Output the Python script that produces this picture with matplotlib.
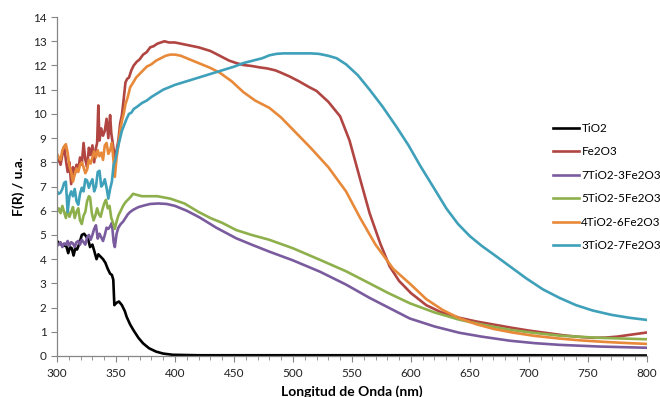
import numpy as np
import matplotlib
matplotlib.use('Agg')
import matplotlib.pyplot as plt
from matplotlib.ticker import MultipleLocator

# TiO2
tio2_x = [300, 302, 304, 306, 307.5, 309.5, 311, 312.5, 314, 315.5, 317, 319, 321, 323, 324.5, 326.5,
          328, 330, 331.5, 333.5, 335, 337, 339, 341, 343, 345, 346.5, 347.7, 348.6, 350.5, 352.5, 355,
          357.5, 359, 362, 365, 369, 373, 378, 384, 390, 398, 420, 500, 600, 700, 800]
tio2_y = [4.75, 4.65, 4.6, 4.55, 4.6, 4.25, 4.5, 4.45, 4.15, 4.45, 4.4, 4.65, 5.0, 5.05, 4.95, 4.8,
          4.5, 4.6, 4.35, 4.0, 4.2, 4.1, 4.0, 3.85, 3.6, 3.4, 3.35, 3.15, 2.1, 2.2, 2.25, 2.1,
          1.85, 1.62, 1.3, 1.05, 0.75, 0.52, 0.32, 0.18, 0.1, 0.05, 0.03, 0.03, 0.03, 0.03, 0.02]

# Fe2O3
fe2o3_x = [300, 301.5, 303, 304.5, 306, 307.5, 309, 310.5, 312, 313.5, 315, 316.5, 318, 319.5, 321,
           322.5, 324, 325.5, 327, 328.5, 330, 331.5, 333, 334, 335, 336, 337.5, 339, 340.5, 342,
           343.5, 345, 346, 347.5, 349, 350.5, 352, 353.5, 355, 356.5, 358, 359.5, 361, 363, 365,
           367.5, 370, 373, 376, 379, 382, 385, 388, 391, 395, 400, 405, 410, 420, 430, 440, 446,
           452, 458, 465, 472, 478, 485, 490, 497, 505, 514, 520, 530, 540, 548, 557, 565, 574, 582,
           590, 600, 613, 625, 641, 655, 670, 685, 700, 715, 730, 745, 755, 765, 775, 785, 800]
fe2o3_y = [8.0, 8.15, 7.9, 8.3, 8.65, 8.1, 7.6, 8.0, 7.1, 7.8, 7.5, 7.9, 7.7, 8.2, 7.9,
           8.8, 8.1, 7.8, 8.6, 8.3, 8.7, 8.0, 8.6, 8.8, 10.35, 8.9, 9.4, 9.1, 9.3, 9.8,
           9.0, 9.95, 9.2, 8.7, 8.2, 8.5, 8.9, 9.6, 9.95, 10.6, 11.3, 11.45, 11.5, 11.8, 12.0,
           12.15, 12.25, 12.45, 12.55, 12.75, 12.8, 12.9, 12.95, 13.0, 12.95, 12.95, 12.9, 12.85, 12.75, 12.6, 12.35, 12.2,
           12.1, 12.02, 11.98, 11.92, 11.88, 11.8, 11.7, 11.55, 11.35, 11.1, 10.95, 10.5, 9.9, 8.9, 7.3, 5.9, 4.65, 3.7,
           3.1, 2.6, 2.1, 1.82, 1.58, 1.43, 1.3, 1.17, 1.05, 0.95, 0.85, 0.78, 0.75, 0.76, 0.8, 0.87, 0.97]

# 7TiO2-3Fe2O3
t7f3_x = [300, 301.5, 303, 304.5, 306, 307.5, 309, 310.5, 312, 313.5, 315, 316.5, 318, 319.5, 321,
          322.5, 324, 325.5, 327, 328.5, 330, 331.5, 333, 334.5, 336, 337.5, 339, 340.5, 342, 343.5,
          345, 346.5, 348, 349, 350.5, 352, 354, 356, 358, 360, 362, 365, 369, 374, 379, 386, 393,
          400, 410, 421, 435, 452, 466, 480, 500, 523, 545, 565, 585, 599, 620, 641, 660, 684, 705,
          726, 760, 800]
t7f3_y = [4.55, 4.6, 4.7, 4.5, 4.65, 4.6, 4.75, 4.55, 4.7, 4.65, 4.5, 4.7, 4.75, 4.6, 4.8,
          4.7, 4.6, 4.9, 5.0, 4.8, 5.0, 5.25, 5.4, 4.85, 5.05, 4.9, 4.75, 5.0, 5.3, 5.25,
          5.35, 5.5, 4.7, 4.5, 5.05, 5.3, 5.45, 5.55, 5.7, 5.85, 5.95, 6.05, 6.15, 6.22, 6.28, 6.3, 6.28,
          6.2, 6.0, 5.72, 5.3, 4.86, 4.58, 4.31, 3.95, 3.48, 2.95, 2.4, 1.9, 1.55, 1.22, 0.96, 0.8, 0.63, 0.53,
          0.46, 0.39, 0.34]

# 5TiO2-5Fe2O3
t5f5_x = [300, 301.5, 303, 304.5, 306, 307.5, 309, 310.5, 312, 313.5, 315, 316.5, 318, 319.5, 321,
          322.5, 324, 325.5, 327, 328, 329.5, 331, 332.5, 334, 335.5, 337, 338.5, 340, 341.5, 343,
          344.5, 346, 347.5, 349, 350.5, 352, 354, 356, 358, 360, 362, 364.5, 368, 372, 378, 385,
          396, 408, 420, 430, 440, 452, 465, 480, 500, 523, 545, 565, 580, 599, 620, 641, 660, 684,
          705, 726, 760, 800]
t5f5_y = [5.95, 6.1, 5.9, 6.2, 5.95, 5.7, 6.05, 5.75, 5.95, 6.15, 5.7, 5.95, 6.1, 5.6, 5.45,
          5.8, 5.95, 6.4, 6.6, 6.55, 5.9, 5.6, 5.8, 6.1, 5.85, 5.75, 6.05, 6.3, 6.45, 6.1,
          6.2, 5.7, 5.5, 5.25, 5.55, 5.8, 6.0, 6.2, 6.35, 6.45, 6.55, 6.7, 6.65, 6.6, 6.6, 6.6,
          6.5, 6.3, 5.95, 5.7, 5.5, 5.2, 5.0, 4.8, 4.45, 3.97, 3.5, 3.0, 2.62, 2.18, 1.8, 1.5, 1.3, 1.08,
          0.95, 0.84, 0.75, 0.69]

# 4TiO2-6Fe2O3
t4f6_x = [300, 301.5, 303, 304.5, 306, 307.5, 309, 310.5, 312, 313.5, 315, 316.5, 318, 319.5, 321,
          322.5, 324, 325.5, 327, 328.5, 330, 331.5, 333, 334.5, 336, 337.5, 339, 340.5, 342, 343.5,
          345, 346.5, 348, 349, 350.5, 352, 353.5, 355, 356.5, 358, 360, 362, 364, 367, 370, 373,
          376, 380, 384, 388, 392, 396, 400, 405, 410, 420, 430, 438, 448, 458, 468, 480, 490, 497,
          505, 515, 530, 545, 557, 570, 585, 600, 613, 627, 641, 655, 670, 686, 705, 726, 745, 765,
          785, 800]
t4f6_y = [8.35, 8.2, 8.1, 8.5, 8.65, 8.75, 8.4, 7.85, 7.6, 7.2, 7.5, 7.75, 7.6, 7.9, 8.0,
          7.8, 7.55, 7.7, 8.1, 7.95, 8.2, 8.45, 8.2, 8.5, 8.25, 8.4, 8.1, 8.7, 8.8, 8.35,
          8.5, 8.8, 8.0, 7.4, 8.2, 8.7, 9.3, 9.7, 10.0, 10.4, 10.7, 11.1, 11.25, 11.5, 11.65, 11.8,
          11.95, 12.05, 12.2, 12.3, 12.4, 12.45, 12.45, 12.4, 12.3, 12.1, 11.9, 11.7, 11.35, 10.9, 10.55, 10.25, 9.85, 9.5,
          9.1, 8.6, 7.8, 6.8, 5.7, 4.6, 3.6, 2.95, 2.35, 1.9, 1.56, 1.32, 1.12, 0.97, 0.83, 0.72, 0.64, 0.58,
          0.53, 0.5]

# 3TiO2-7Fe2O3
t3f7_x = [300, 301.5, 303, 304.5, 306, 307.5, 309, 310.5, 312, 313.5, 315, 316.5, 318, 319.5, 321,
          322.5, 324, 325.5, 327, 328.5, 330, 331.5, 333, 334.5, 336, 337.5, 339, 340.5, 342, 343.5,
          345, 346.5, 348, 349.5, 351, 353, 355, 357, 359, 361, 363, 365, 368, 372, 376, 380, 385,
          390, 395, 400, 410, 420, 430, 440, 450, 458, 466, 474, 480, 486, 492, 500, 508, 515, 522,
          530, 537, 545, 555, 565, 576, 588, 598, 608, 620, 630, 640, 650, 660, 670, 684, 698, 712,
          726, 740, 754, 770, 785, 800]
t3f7_y = [6.8, 6.7, 6.75, 6.9, 7.15, 7.2, 5.95, 6.6, 6.8, 6.6, 6.9, 6.4, 6.25, 6.7, 6.95,
          6.8, 7.3, 7.25, 6.95, 7.15, 7.3, 6.8, 7.0, 7.6, 7.65, 7.0, 7.1, 7.3, 6.95, 6.5,
          6.9, 7.2, 7.9, 8.1, 8.5, 8.9, 9.3, 9.55, 9.8, 10.0, 10.05, 10.2, 10.3, 10.45, 10.55, 10.7, 10.85,
          11.0, 11.1, 11.2, 11.35, 11.5, 11.65, 11.8, 11.95, 12.1, 12.2, 12.3, 12.42, 12.48, 12.5, 12.5, 12.5, 12.5, 12.48,
          12.4, 12.3, 12.05, 11.6, 11.0, 10.3, 9.45, 8.7, 7.85, 6.9, 6.1, 5.45, 4.95, 4.55, 4.2, 3.7, 3.2, 2.75,
          2.4, 2.1, 1.88, 1.7, 1.58, 1.49]

series = [
    ('TiO2', tio2_x, tio2_y, '#000000'),
    ('Fe2O3', fe2o3_x, fe2o3_y, '#B04542'),
    ('7TiO2-3Fe2O3', t7f3_x, t7f3_y, '#7A5C9E'),
    ('5TiO2-5Fe2O3', t5f5_x, t5f5_y, '#8EB04C'),
    ('4TiO2-6Fe2O3', t4f6_x, t4f6_y, '#E8893A'),
    ('3TiO2-7Fe2O3', t3f7_x, t3f7_y, '#3FA0BA'),
]

plt.rcParams['font.family'] = ['Lato', 'DejaVu Sans']

fig = plt.figure(figsize=(6.6, 3.97), dpi=100)
ax = fig.add_axes([0.0864, 0.1033, 0.8936, 0.8537])

for name, x, y, c in series:
    ax.plot(x, y, color=c, lw=1.9, label=name, solid_joinstyle='round')

ax.set_xlim(300, 800)
ax.set_ylim(0, 14)
ax.xaxis.set_major_locator(MultipleLocator(50))
ax.xaxis.set_minor_locator(MultipleLocator(10))
ax.yaxis.set_major_locator(MultipleLocator(1))

for s in ['top', 'right']:
    ax.spines[s].set_visible(False)
for s in ['left', 'bottom']:
    ax.spines[s].set_color('#868686')
    ax.spines[s].set_linewidth(0.9)

ax.tick_params(axis='both', which='major', direction='out', length=4, color='#868686',
               labelsize=8.5, labelcolor='#222222')
ax.tick_params(axis='x', which='major', pad=5)
ax.tick_params(axis='x', which='minor', direction='out', length=3, color='#868686')

ax.set_xlabel('Longitud de Onda (nm)', fontsize=10, fontweight='bold', labelpad=4)
ax.set_ylabel('F(R) / u.a.', fontsize=10, fontweight='bold', labelpad=6)

ax.legend(loc='upper left', bbox_to_anchor=(0.838, 0.69), bbox_transform=fig.transFigure,
          frameon=False, fontsize=8.5, handlelength=2.2, handletextpad=0.2,
          labelspacing=1.05, borderpad=0, borderaxespad=0)

fig.savefig('out.png', dpi=100)
